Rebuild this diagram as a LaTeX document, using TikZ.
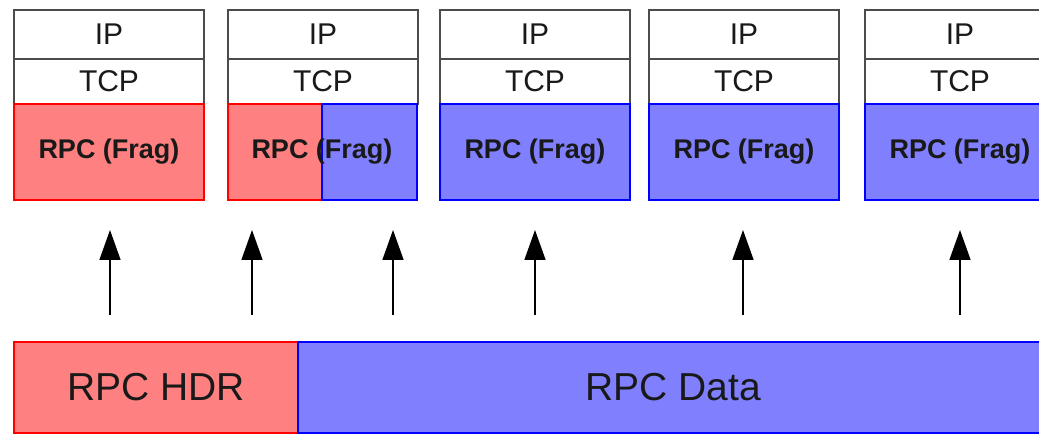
\documentclass[tikz,border=0pt]{standalone}
\usepackage{fontspec}
\setmainfont{Liberation Sans}
\usepackage{tikz}
\usepackage{xcolor}
\usetikzlibrary{positioning,arrows.meta}
\definecolor{hdrred}{HTML}{FF8080}
\definecolor{datablue}{HTML}{8080FF}
\tikzset{
    layer-box/.style = {draw=black!70, fill=white, line width=1.6pt, rectangle, outer sep=0pt, inner sep=0pt, minimum width=190pt, text=black!90, font=\fontsize{30}{34}\selectfont},
    frag-red/.style = {draw=red, fill=hdrred, line width=1.5pt, rectangle, outer sep=0pt, inner sep=0pt, minimum width=190pt, minimum height=96pt, text=black!90, font=\bfseries\fontsize{27}{30}\selectfont},
    frag-blue/.style = {frag-red, draw=blue, fill=datablue},
    bar-box/.style = {draw=red, fill=hdrred, line width=1.5pt, rectangle, outer sep=0pt, inner sep=0pt, minimum height=91pt, anchor=north west, text=black!90, font=\fontsize{39}{44}\selectfont},
    up-arrow/.style = {draw=black, line width=1.6pt, -{Triangle[length=30pt,width=21pt]}},
}

\begin{document}
\begin{tikzpicture}[x=1pt,y=-1pt]
\useasboundingbox (0,0) rectangle (1039,435);
\clip (0,0) rectangle (1039,435);
\fill[white] (0,0) rectangle (1039,435);

% packets: IP and TCP headers
\foreach \x [count=\i] in {14,228,440,649,865} {
    \node[layer-box, minimum height=49pt, anchor=north west] (ip\i) at (\x,10) {IP};
    \node[layer-box, minimum height=45pt, below=0pt of ip\i] (tcp\i) {TCP};
}

% fragments
\node[frag-red, below=0pt of tcp1] (rpc1) {RPC (Frag)};
\node[frag-red, minimum width=94pt, anchor=north west] (rpc2a) at (tcp2.south west) {};
\node[frag-blue, minimum width=95pt, anchor=north west] (rpc2b) at (rpc2a.north east) {};
\node[text=black!90, font=\bfseries\fontsize{27}{30}\selectfont] (rpc2) at (rpc2a.east) {RPC (Frag)};
\foreach \i in {3,4,5} {
    \node[frag-blue, below=0pt of tcp\i] (rpc\i) {RPC (Frag)};
}

% RPC message
\node[bar-box, minimum width=284pt] (hdr) at (14,342) {RPC HDR};
\node[bar-box, draw=blue, fill=datablue, minimum width=750pt] (data) at (hdr.north east) {RPC Data};

% arrows
\foreach \x [count=\i] in {110,252,393,535,743,960} {
    \coordinate (from\i) at (\x,315);
    \coordinate (to\i) at (\x,230);
    \draw[up-arrow] (from\i) -- (to\i);
}
\end{tikzpicture}
\end{document}
